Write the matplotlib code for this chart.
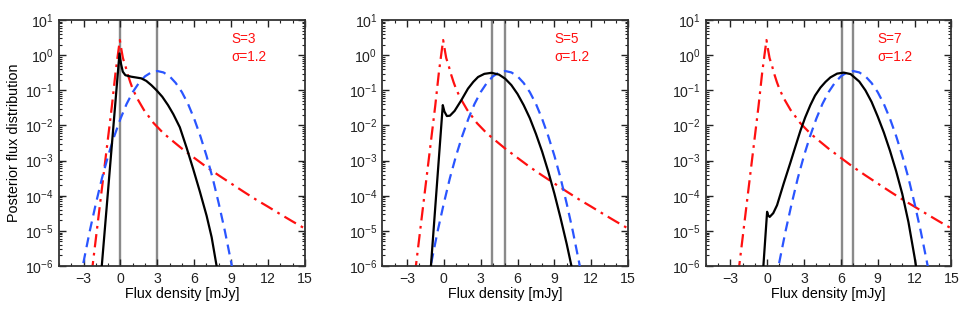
import numpy as np
import matplotlib
matplotlib.use("Agg")
import matplotlib.pyplot as plt
from matplotlib.ticker import MultipleLocator, LogLocator, NullFormatter

plt.rcParams["font.family"] = ["Liberation Sans", "DejaVu Sans"]
plt.rcParams["mathtext.fontset"] = "custom"
plt.rcParams["mathtext.rm"] = "Liberation Sans"
plt.rcParams["mathtext.it"] = "Liberation Sans:italic"

# source flux S for each panel, noise sigma
fluxes = [3, 5, 7]
sigma = 1.2

# prior (red dash-dot), same in every panel
prior_x = [-2.6, -2.27, -1.7, -1.2, -0.7, -0.4, -0.2, -0.05, 0.1, 0.2, 0.4, 0.6, 0.8,
           1.0, 1.35, 1.9, 2.7, 3.5, 4.3, 5, 6, 7, 8, 9, 10, 11, 12, 13, 14, 15]
prior_y = [1e-7, 1e-6, 4.5e-5, 1.26e-3, 3.5e-2, 0.32, 1.1, 2.7, 1.3, 0.83, 0.5, 0.28, 0.17,
           0.11, 0.06, 0.028, 0.0117, 6.0e-3, 3.5e-3, 2.2e-3, 1.2e-3, 6.6e-4, 3.8e-4, 2.24e-4,
           1.32e-4, 7.9e-5, 4.9e-5, 3.0e-5, 1.86e-5, 1.17e-5]

# likelihood (blue dashed), offsets from S
like_dx = [-6.5, -6, -5.5, -5, -4.5, -4, -3.5, -3, -2.5, -2, -1.5, -1, -0.5, 0,
           0.5, 1, 1.5, 2, 2.5, 3, 3.5, 4, 4.5, 5, 5.5, 6, 6.5]
like_y = [1.5e-7, 1.32e-6, 9.8e-6, 6.0e-5, 3.2e-4, 1.38e-3, 5.0e-3, 0.0155, 0.041, 0.089,
          0.162, 0.251, 0.324, 0.355, 0.324, 0.251, 0.162, 0.089, 0.041, 0.0155, 5.0e-3,
          1.38e-3, 3.2e-4, 6.0e-5, 9.8e-6, 1.32e-6, 1.5e-7]

# posterior (black solid)
post_x = [
    [-1.6, -0.08, 0.05, 0.19, 0.4, 0.87, 1.69, 2.1, 2.51, 2.92, 3.4, 3.87, 4.3, 4.83,
     5.38, 5.92, 6.46, 7.01, 7.42, 7.8, 8.0],
    [-1.15, -0.08, 0.05, 0.25, 0.5, 0.88, 1.42, 1.97, 2.4, 2.79, 3.3, 3.89, 4.5, 5.0,
     5.5, 6.0, 6.5, 7.0, 7.5, 8.0, 8.5, 9.0, 9.5, 10.0, 10.5],
    [-0.4, 0.0, 0.08, 0.21, 0.5, 0.81, 1.35, 1.9, 2.3, 2.71, 3.1, 3.52, 3.9, 4.34, 4.75,
     5.15, 5.7, 6.24, 6.8, 7.5, 8.0, 8.5, 9.0, 9.5, 10.0, 10.5, 11.0, 11.5, 12.0, 12.25],
]
post_y = [
    [4.6e-7, 1.12, 0.56, 0.34, 0.27, 0.245, 0.22, 0.186, 0.141, 0.102, 0.066, 0.038,
     0.021, 8.9e-3, 2.34e-3, 5.75e-4, 1.32e-4, 2.7e-5, 6.6e-6, 1.12e-6, 4.5e-7],
    [3.2e-7, 0.038, 0.025, 0.0186, 0.019, 0.026, 0.052, 0.112, 0.174, 0.24, 0.295, 0.316,
     0.28, 0.214, 0.141, 0.079, 0.038, 0.0162, 5.75e-3, 1.82e-3, 4.9e-4, 1.15e-4, 2.34e-5,
     4.27e-6, 6.6e-7],
    [3.2e-7, 3.5e-5, 2.8e-5, 2.5e-5, 3.2e-5, 5.4e-5, 2.24e-4, 8.9e-4, 2.5e-3, 7.1e-3, 0.017,
     0.038, 0.071, 0.12, 0.174, 0.234, 0.30, 0.32, 0.29, 0.178, 0.1, 0.047, 0.018, 6.3e-3,
     1.9e-3, 5.0e-4, 1.12e-4, 1.78e-5, 1.78e-6, 5e-7],
]

# vertical reference lines (posterior mode, true flux)
vlines = [[0.0, 3.0], [3.94, 5.0], [6.1, 7.0]]

xticks = [-3, 0, 3, 6, 9, 12, 15]
yticks = [1e-6, 1e-5, 1e-4, 1e-3, 1e-2, 1e-1, 1e0, 1e1]

fig = plt.figure(figsize=(9.64, 3.09), dpi=100)
lefts = [0.0612, 0.3966, 0.732]

for i, S in enumerate(fluxes):
    ax = fig.add_axes([lefts[i], 0.139, 0.255, 0.796])
    for xv in vlines[i]:
        ax.axvline(xv, color="#8a8a8a", lw=1.7, zorder=1)
    ax.plot(prior_x, prior_y, color="#ff1010", lw=1.6, dashes=(6, 2.5, 1.2, 2.5), zorder=2)
    ax.plot(np.array(like_dx) + S, like_y, color="#2a55ff", lw=1.6, dashes=(4.5, 2.8), zorder=3)
    ax.plot(post_x[i], post_y[i], color="black", lw=1.6, zorder=4)

    ax.set_yscale("log")
    ax.set_xlim(-5, 15)
    ax.set_ylim(1e-6, 10)
    ax.set_xticks(xticks)
    ax.set_xticklabels([str(t).replace("-", "\u2212") for t in xticks])
    ax.xaxis.set_minor_locator(MultipleLocator(1))
    ax.set_yticks(yticks)
    ax.set_yticklabels([r"$10^{%d}$" % int(np.log10(t)) for t in yticks])
    ax.yaxis.set_minor_locator(LogLocator(base=10, subs=np.arange(2, 10)))
    ax.yaxis.set_minor_formatter(NullFormatter())
    ax.tick_params(which="both", direction="in", top=True, right=True, labelsize=10.2,
                   colors="#222222")
    ax.tick_params(which="major", length=5, width=1)
    ax.tick_params(which="minor", length=2.5, width=0.8)
    ax.tick_params(axis="x", pad=4)
    for sp in ax.spines.values():
        sp.set_color("#333333")
        sp.set_linewidth(1.3)

    ax.set_xlabel("Flux density [mJy]", fontsize=10.3, labelpad=1)
    if i == 0:
        ax.set_ylabel("Posterior flux distribution", fontsize=10.4, labelpad=3)

    ax.text(0.70, 0.925, "S=%d" % S, transform=ax.transAxes, color="#ff1010",
            fontsize=9.8, va="center")
    ax.text(0.70, 0.85, "\u03c3=%.1f" % sigma, transform=ax.transAxes, color="#ff1010",
            fontsize=9.8, va="center")

fig.savefig("out.png", dpi=100)
